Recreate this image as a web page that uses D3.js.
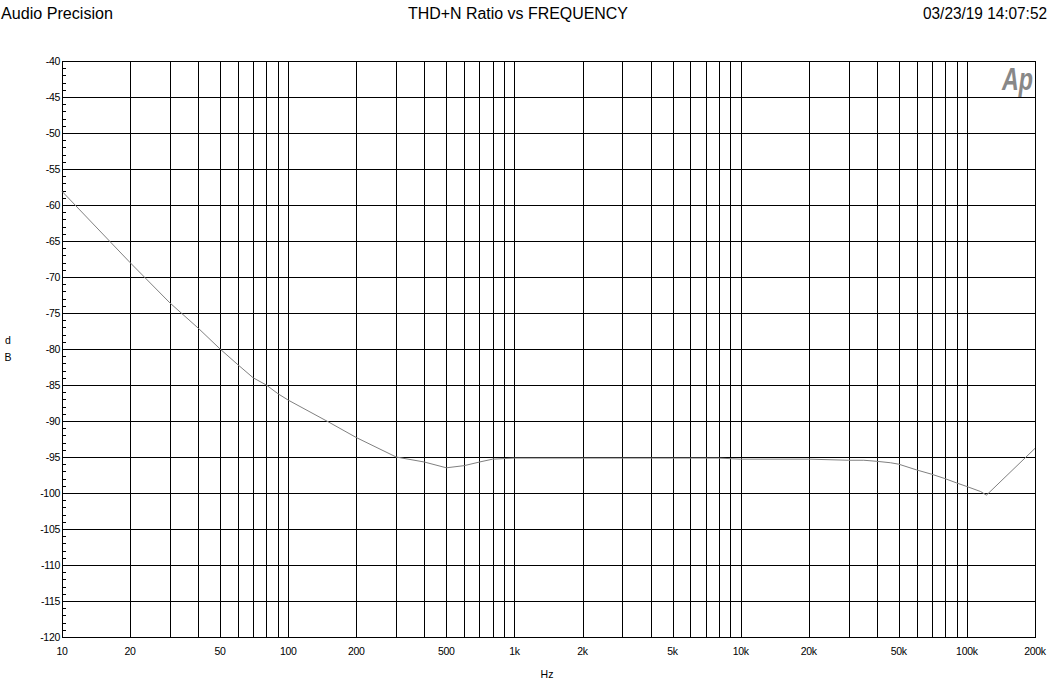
<!DOCTYPE html>
<html>
<head>
<meta charset="utf-8">
<script src="https://cdn.jsdelivr.net/npm/d3@7"></script>
<style>
  html, body { margin: 0; padding: 0; background: #fff; }
  svg { display: block; }
  text { font-family: "Liberation Sans", Arial, sans-serif; fill: #000; }
</style>
</head>
<body>
<svg id="chart" width="1053" height="685"></svg>
<script>
// ---- data ----
const freqs = [10, 20, 30, 40, 50, 60, 70, 80, 90, 100, 150, 200, 300, 400, 500, 600, 700, 800, 1000, 2000, 5000, 8000, 10000, 20000, 30000, 35000, 40000, 46000, 50000, 60000, 70000, 80000, 90000, 100000, 115000, 122000, 200000];
const thdn  = [-58.1, -68.0, -73.6, -77.1, -80.0, -82.2, -84.0, -85.0, -86.2, -87.1, -90.1, -92.3, -95.0, -95.7, -96.5, -96.2, -95.7, -95.3, -95.15, -95.15, -95.15, -95.15, -95.3, -95.3, -95.45, -95.45, -95.6, -95.8, -96.0, -96.8, -97.4, -98.0, -98.6, -99.1, -99.8, -100.3, -93.8];
const xTickValues = [10, 20, 50, 100, 200, 500, 1000, 2000, 5000, 10000, 20000, 50000, 100000, 200000];
const xTickLabels = ["10", "20", "50", "100", "200", "500", "1k", "2k", "5k", "10k", "20k", "50k", "100k", "200k"];
const yTickValues = [-40, -45, -50, -55, -60, -65, -70, -75, -80, -85, -90, -95, -100, -105, -110, -115, -120];
const titleLeft = "Audio Precision";
const titleCenter = "THD+N Ratio vs FREQUENCY";
const titleRight = "03/23/19 14:07:52";

// ---- layout ----
const L = 62, R = 1035, T = 61, B = 637;
const svg = d3.select("#chart");
const x = d3.scaleLog().domain([10, 200000]).range([L, R]);
const y = d3.scaleLinear().domain([-120, -40]).range([B, T]);
const px = v => Math.round(v) + 0.5;

// vertical grid lines: 20..90, 200..900, ... inside domain
const vGrid = [];
for (let dec = 10; dec <= 100000; dec *= 10) {
  for (let m = 1; m <= 9; m++) {
    const f = dec * m;
    if (f > 10 && f < 200000) vGrid.push(f);
  }
}
const g = svg.append("g").attr("shape-rendering", "crispEdges");
g.selectAll("line.v").data(vGrid).enter().append("line")
  .attr("x1", d => px(x(d))).attr("x2", d => px(x(d)))
  .attr("y1", T).attr("y2", B)
  .attr("stroke", "#000").attr("stroke-width", 1);
g.selectAll("line.h").data(yTickValues).enter().append("line")
  .attr("x1", L).attr("x2", R)
  .attr("y1", d => px(y(d))).attr("y2", d => px(y(d)))
  .attr("stroke", "#000").attr("stroke-width", 1);
// minor ticks every 1 dB
g.selectAll("line.m").data(d3.range(-120, -39, 1)).enter().append("line")
  .attr("x1", L).attr("x2", L + 4)
  .attr("y1", d => px(y(d))).attr("y2", d => px(y(d)))
  .attr("stroke", "#000").attr("stroke-width", 1);
// frame
g.append("rect").attr("x", px(L)).attr("y", px(T))
  .attr("width", Math.round(R) - Math.round(L)).attr("height", Math.round(B) - Math.round(T))
  .attr("fill", "none").attr("stroke", "#000").attr("stroke-width", 1);

// y tick labels
svg.append("g").selectAll("text").data(yTickValues).enter().append("text")
  .attr("x", L - 2).attr("y", d => y(d) + 4)
  .attr("text-anchor", "end").attr("font-size", 10.5).attr("letter-spacing", "-0.3px")
  .text(d => String(d));

// x tick labels
svg.append("g").selectAll("text").data(xTickValues).enter().append("text")
  .attr("x", d => x(d)).attr("y", 655)
  .attr("text-anchor", "middle").attr("font-size", 10.5).attr("letter-spacing", "-0.3px")
  .text((d, i) => xTickLabels[i]);

// axis titles
svg.append("text").attr("x", 547).attr("y", 678).attr("text-anchor", "middle")
  .attr("font-size", 10.5).text("Hz");
svg.append("text").attr("x", 8).attr("y", 344).attr("text-anchor", "middle")
  .attr("font-size", 10.5).text("d");
svg.append("text").attr("x", 8).attr("y", 361).attr("text-anchor", "middle")
  .attr("font-size", 10.5).text("B");

// header texts
svg.append("text").attr("x", 1).attr("y", 19).attr("font-size", 16)
  .attr("textLength", 112).attr("lengthAdjust", "spacingAndGlyphs").text(titleLeft);
svg.append("text").attr("x", 408).attr("y", 19).attr("font-size", 16)
  .attr("textLength", 220).attr("lengthAdjust", "spacingAndGlyphs").text(titleCenter);
svg.append("text").attr("x", 923).attr("y", 19).attr("font-size", 16)
  .attr("textLength", 124).attr("lengthAdjust", "spacingAndGlyphs").text(titleRight);

// Ap logo
svg.append("text").attr("x", 1002).attr("y", 90).attr("font-size", 31)
  .attr("font-weight", "bold").attr("font-style", "italic")
  .attr("textLength", 31).attr("lengthAdjust", "spacingAndGlyphs")
  .style("fill", "#888").text("Ap");

// data line
const line = d3.line().x((d, i) => x(freqs[i])).y(d => y(d));
svg.append("path").datum(thdn)
  .attr("d", line)
  .attr("fill", "none").attr("stroke", "#808080").attr("stroke-width", 1);
</script>
</body>
</html>
